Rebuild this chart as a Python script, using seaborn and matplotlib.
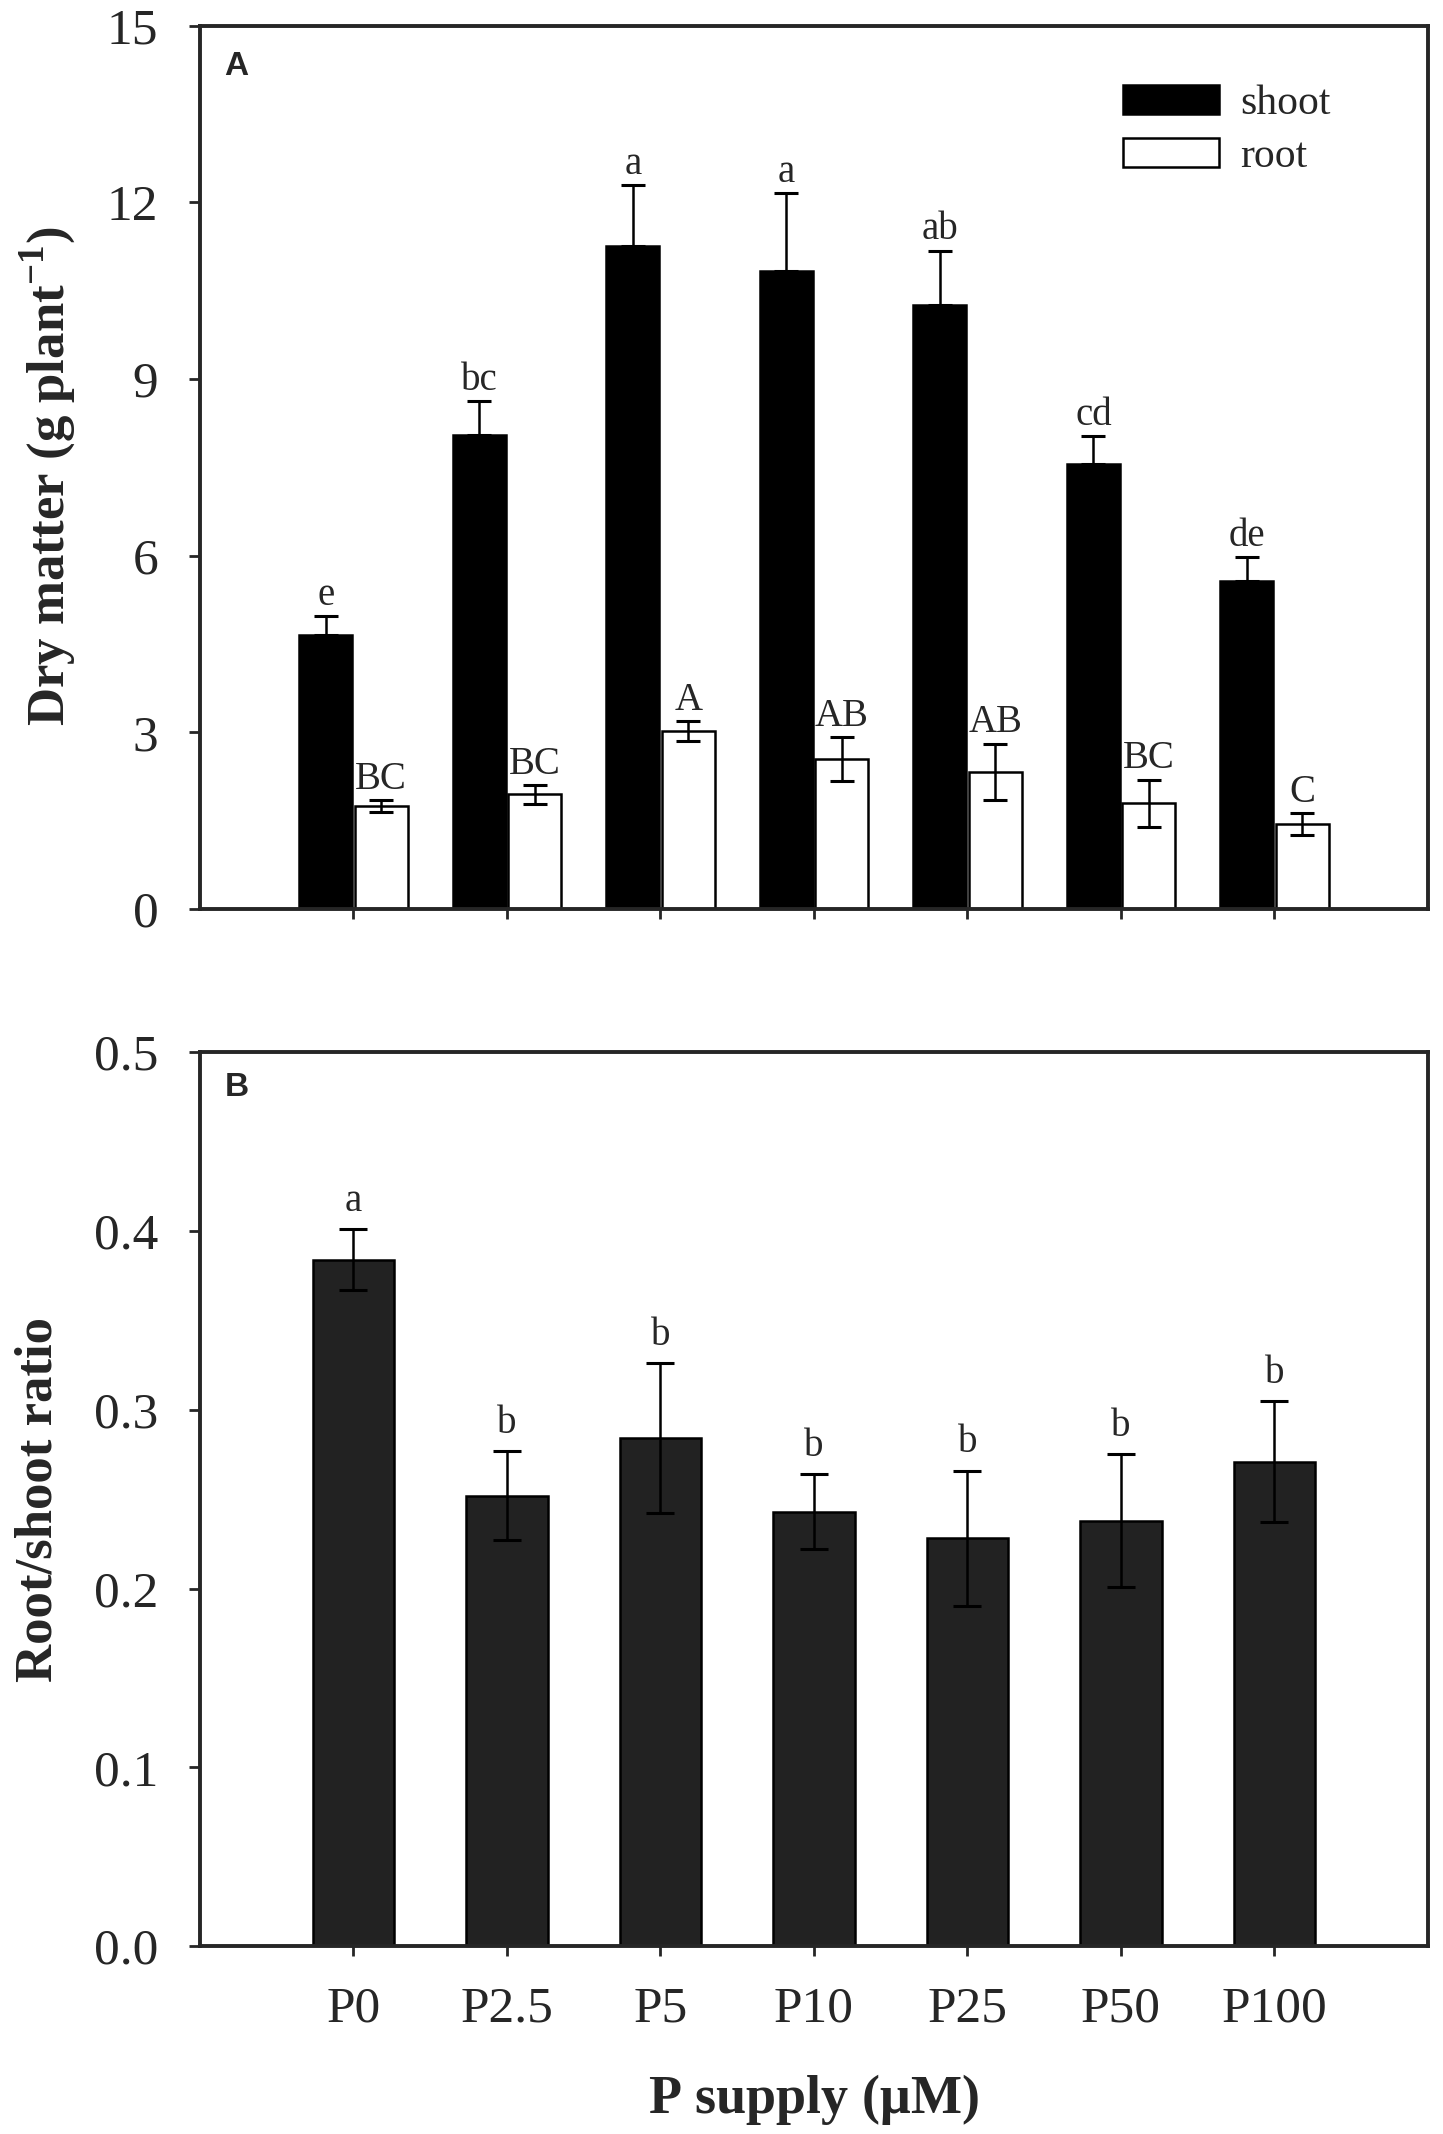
import warnings
warnings.filterwarnings("ignore")
import numpy as np
import pandas as pd
import seaborn as sns
import matplotlib.pyplot as plt

supply = ['P0', 'P2.5', 'P5', 'P10', 'P25', 'P50', 'P100']

shoot = [4.65, 8.05, 11.25, 10.83, 10.25, 7.55, 5.57]
shoot_se = [0.32, 0.58, 1.05, 1.33, 0.93, 0.48, 0.40]
shoot_let = ['e', 'bc', 'a', 'a', 'ab', 'cd', 'de']

root = [1.75, 1.95, 3.02, 2.55, 2.33, 1.80, 1.44]
root_se = [0.10, 0.16, 0.17, 0.37, 0.48, 0.40, 0.19]
root_let = ['BC', 'BC', 'A', 'AB', 'AB', 'BC', 'C']

ratio = [0.384, 0.252, 0.284, 0.243, 0.228, 0.238, 0.271]
ratio_se = [0.017, 0.025, 0.042, 0.021, 0.038, 0.037, 0.034]
ratio_let = ['a', 'b', 'b', 'b', 'b', 'b', 'b']

df_a = pd.DataFrame({'supply': supply * 2,
                     'dm': shoot + root,
                     'part': ['shoot'] * 7 + ['root'] * 7})
df_b = pd.DataFrame({'supply': supply, 'ratio': ratio})

sns.set_style("ticks")
plt.rcParams['font.family'] = ['Liberation Serif', 'DejaVu Serif']
plt.rcParams['mathtext.fontset'] = 'custom'
plt.rcParams['mathtext.rm'] = 'Liberation Serif'
plt.rcParams['mathtext.bf'] = 'Liberation Serif:bold'

fig = plt.figure(figsize=(14.43, 21.34), dpi=100)
ax1 = fig.add_axes([0.1386, 0.574, 0.851, 0.414])
ax2 = fig.add_axes([0.1386, 0.088, 0.851, 0.419])

# panel A
sns.barplot(data=df_a, x='supply', y='dm', hue='part', order=supply,
            hue_order=['shoot', 'root'], palette={'shoot': 'black', 'root': 'white'},
            saturation=1, edgecolor='black', linewidth=1.8, width=0.72, gap=0.04,
            errorbar=None, ax=ax1)
handles = ax1.get_legend().legend_handles
ax1.get_legend().remove()

sx = [p.get_x() + p.get_width() / 2 for p in ax1.containers[0]]
rx = [p.get_x() + p.get_width() / 2 for p in ax1.containers[1]]
ax1.errorbar(sx, shoot, yerr=[np.zeros(7), shoot_se], fmt='none', ecolor='black',
             elinewidth=1.8, capsize=8.5, capthick=2.2, zorder=3)
ax1.errorbar(rx, root, yerr=root_se, fmt='none', ecolor='black',
             elinewidth=1.8, capsize=8.5, capthick=2.2, zorder=3)
for x, m, e, t in zip(sx, shoot, shoot_se, shoot_let):
    ax1.annotate(t, (x, m + e), xytext=(0, 8), textcoords='offset points',
                 ha='center', va='baseline', fontsize=28)
for x, m, e, t in zip(rx, root, root_se, root_let):
    ax1.annotate(t, (x, m + e), xytext=(0, 8), textcoords='offset points',
                 ha='center', va='baseline', fontsize=28)

ax1.legend(handles, ['shoot', 'root'], loc='upper left', bbox_to_anchor=(0.752, 0.933),
           frameon=False, fontsize=30, handlelength=2.3, handleheight=0.7,
           handletextpad=0.5, labelspacing=0.35, borderpad=0, borderaxespad=0)

ax1.set_xlim(-1.0, 7.0)
ax1.set_ylim(0, 15)
ax1.set_yticks([0, 3, 6, 9, 12, 15])
ax1.set_xlabel('')
ax1.tick_params(axis='x', labelbottom=False)
ax1.set_ylabel(r'Dry matter (g plant$^{\mathbf{-1}}$)', fontsize=38, fontweight='bold')
ax1.yaxis.set_label_coords(-0.099, 0.49)
ax1.text(0.02, 0.954, 'A', transform=ax1.transAxes, fontsize=24, fontweight='bold',
         family='Liberation Sans', ha='left', va='center')

# panel B
sns.barplot(data=df_b, x='supply', y='ratio', order=supply, color='#222222',
            saturation=1, edgecolor='black', linewidth=1.8, width=0.53,
            errorbar=None, ax=ax2)
bx = [p.get_x() + p.get_width() / 2 for p in ax2.containers[0]]
ax2.errorbar(bx, ratio, yerr=ratio_se, fmt='none', ecolor='black',
             elinewidth=1.8, capsize=10, capthick=2.2, zorder=3)
for x, m, e, t in zip(bx, ratio, ratio_se, ratio_let):
    ax2.annotate(t, (x, m + e), xytext=(0, 13), textcoords='offset points',
                 ha='center', va='baseline', fontsize=28)

ax2.set_xlim(-1.0, 7.0)
ax2.set_ylim(0, 0.5)
ax2.set_yticks([0.0, 0.1, 0.2, 0.3, 0.4, 0.5])
ax2.set_yticklabels(['0.0', '0.1', '0.2', '0.3', '0.4', '0.5'])
ax2.set_ylabel('Root/shoot ratio', fontsize=38, fontweight='bold')
ax2.yaxis.set_label_coords(-0.112, 0.5)
ax2.set_xlabel(r'P supply ($\mathbf{\mu}$M)', fontsize=39, fontweight='bold', labelpad=28)
ax2.text(0.02, 0.960, 'B', transform=ax2.transAxes, fontsize=24, fontweight='bold',
         family='Liberation Sans', ha='left', va='center')

for ax in (ax1, ax2):
    for s in ax.spines.values():
        s.set_linewidth(2.8)
        s.set_visible(True)
    ax.tick_params(axis='y', direction='out', length=8, width=2, labelsize=37, pad=22)
    ax.tick_params(axis='x', direction='out', length=7, width=2, labelsize=37, pad=22)

fig.savefig('out.png', dpi=100)
